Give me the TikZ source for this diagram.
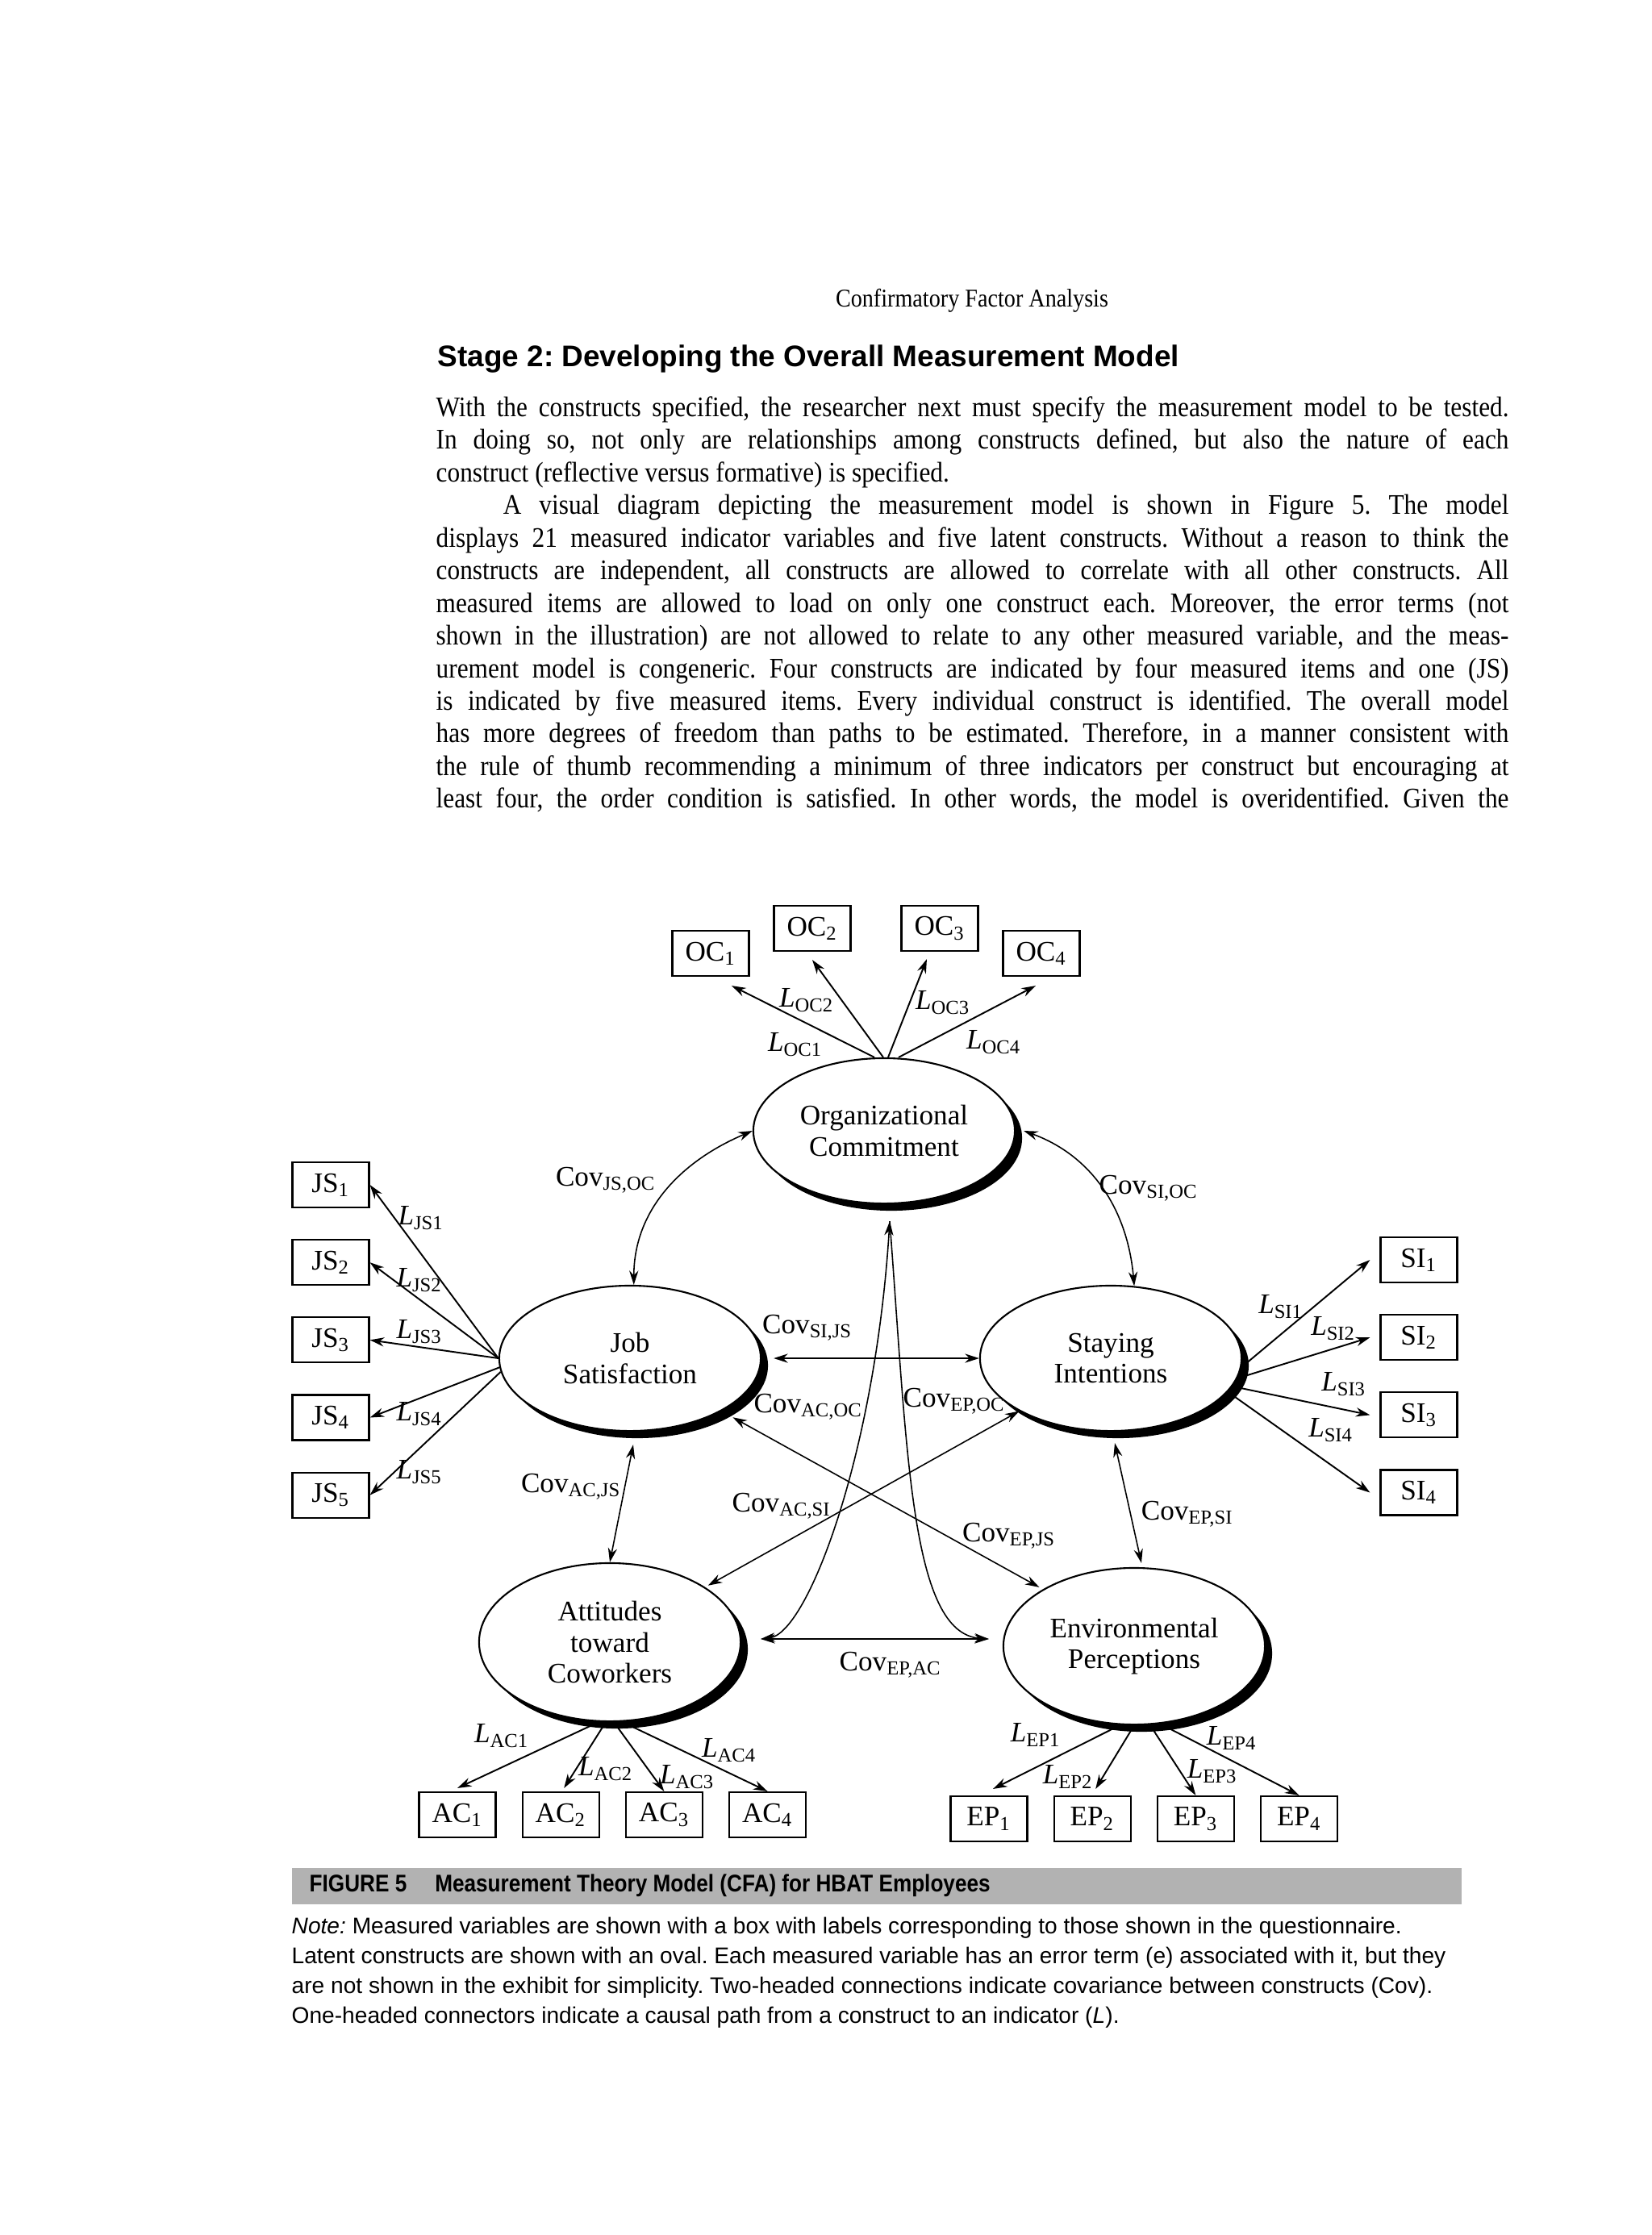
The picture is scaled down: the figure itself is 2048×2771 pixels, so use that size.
\documentclass[tikz,border=0pt]{standalone}
\usepackage{fontspec}
\setmainfont{Liberation Serif}
\newfontfamily\bodyfont[FakeStretch=0.89]{Liberation Serif}
\newfontfamily\headfont{Liberation Sans}
\newfontfamily\notefont{Liberation Sans}
\newfontfamily\titlefont[FakeStretch=0.875]{Liberation Sans}
\usetikzlibrary{positioning,arrows.meta,shapes.geometric,shadows}
\newcommand{\Ld}[1]{\textit{L}\textsubscript{#1}}
\newcommand{\Cv}[1]{Cov\textsubscript{#1}}
\frenchspacing

\begin{document}
\begin{tikzpicture}[x=0.01cm,y=0.01cm,>={Stealth[length=5pt,width=3.2pt]},
  construct/.style={draw,ellipse,fill=white,line width=0.6pt,minimum width=3.24cm,minimum height=1.8cm,inner sep=0pt,align=center,font=\fontsize{10}{11}\selectfont,drop shadow={shadow xshift=0.09cm,shadow yshift=-0.09cm,fill=black,opacity=1}},
  indicator/.style={draw,line width=0.6pt,minimum width=0.95cm,minimum height=0.56cm,inner sep=0pt,font=\fontsize{10}{11}\selectfont},
  load/.style={->,line width=0.55pt},
  cov/.style={<->,line width=0.45pt},
  lab/.style={inner sep=0pt,font=\fontsize{10}{11}\selectfont}]
\fill[white] (0,0) rectangle (2048,-2771);
\useasboundingbox (0,0) rectangle (2048,-2771);

\node[font=\bodyfont\fontsize{9}{11}\selectfont] (runhead) at (1205,-373) {Confirmatory Factor Analysis};
\node[anchor=base west,inner sep=0pt,font=\headfont\bfseries\fontsize{10.5}{12}\selectfont] (stage) at (542,-454) {Stage 2: Developing the Overall Measurement Model};
\node[anchor=north west,inner sep=0pt,text width=13.29cm,align=justify,font=\bodyfont\fontsize{10}{11.5}\selectfont] (body) at (540,-491) {With the constructs specified, the researcher next must specify the measurement model to be tested.\linebreak In doing so, not only are relationships among constructs defined, but also the nature of each\linebreak construct (reflective versus formative) is specified.\par
\hspace*{0.83cm}A visual diagram depicting the measurement model is shown in Figure 5. The model\linebreak displays 21 measured indicator variables and five latent constructs. Without a reason to think the\linebreak constructs are independent, all constructs are allowed to correlate with all other constructs. All\linebreak measured items are allowed to load on only one construct each. Moreover, the error terms (not\linebreak shown in the illustration) are not allowed to relate to any other measured variable, and the meas-\linebreak urement model is congeneric. Four constructs are indicated by four measured items and one (JS)\linebreak is indicated by five measured items. Every individual construct is identified. The overall model\linebreak has more degrees of freedom than paths to be estimated. Therefore, in a manner consistent with\linebreak the rule of thumb recommending a minimum of three indicators per construct but encouraging at\linebreak least four, the order condition is satisfied. In other words, the model is overidentified. Given the\parfillskip=0pt\par};

\node[construct] (OC) at (1096,-1402) {Organizational\\Commitment};
\node[construct] (JS) at (781,-1684) {Job\\Satisfaction};
\node[construct] (SI) at (1377,-1684) {Staying\\Intentions};
\node[construct,minimum height=1.96cm] (AC) at (756,-2036) {Attitudes\\toward\\Coworkers};
\node[construct,minimum height=1.94cm] (EP) at (1406,-2041) {Environmental\\Perceptions};

\node[indicator] (OC1) at (881,-1182) {OC\textsubscript{1}};
\node[indicator] (OC2) at (1007,-1151) {OC\textsubscript{2}};
\node[indicator] (OC3) at (1165,-1151) {OC\textsubscript{3}};
\node[indicator] (OC4) at (1291,-1182) {OC\textsubscript{4}};
\node[indicator] (JS1) at (410,-1469) {JS\textsubscript{1}};
\node[indicator,below=0.38cm of JS1] (JS2) {JS\textsubscript{2}};
\node[indicator,below=0.38cm of JS2] (JS3) {JS\textsubscript{3}};
\node[indicator,below=0.38cm of JS3] (JS4) {JS\textsubscript{4}};
\node[indicator,below=0.38cm of JS4] (JS5) {JS\textsubscript{5}};
\node[indicator] (SI1) at (1759,-1562) {SI\textsubscript{1}};
\node[indicator,below=0.38cm of SI1] (SI2) {SI\textsubscript{2}};
\node[indicator,below=0.38cm of SI2] (SI3) {SI\textsubscript{3}};
\node[indicator,below=0.38cm of SI3] (SI4) {SI\textsubscript{4}};
\node[indicator] (AC1) at (567,-2250) {AC\textsubscript{1}};
\node[indicator,right=0.31cm of AC1] (AC2) {AC\textsubscript{2}};
\node[indicator,right=0.31cm of AC2] (AC3) {AC\textsubscript{3}};
\node[indicator,right=0.31cm of AC3] (AC4) {AC\textsubscript{4}};
\node[indicator] (EP1) at (1226,-2255) {EP\textsubscript{1}};
\node[indicator,right=0.31cm of EP1] (EP2) {EP\textsubscript{2}};
\node[indicator,right=0.31cm of EP2] (EP3) {EP\textsubscript{3}};
\node[indicator,right=0.31cm of EP3] (EP4) {EP\textsubscript{4}};

\path[load]
  ([xshift=-0.12cm]OC.north) edge ([xshift=0.26cm,yshift=-0.11cm]OC1.south)
  ([xshift=-0.01cm]OC.north) edge ([yshift=-0.1cm]OC2.south)
  ([xshift=0.05cm]OC.north) edge ([xshift=-0.16cm,yshift=-0.09cm]OC3.south)
  ([xshift=0.18cm]OC.north) edge ([xshift=-0.07cm,yshift=-0.11cm]OC4.south)
  (JS.west) edge (JS1.east)
  (JS.west) edge (JS2.east)
  (JS.west) edge (JS3.east)
  (JS.184) edge (JS4.east)
  (JS.186) edge (JS5.east)
  (SI.-4) edge ([xshift=-0.12cm]SI1.west)
  (SI.-9) edge ([xshift=-0.12cm]SI2.west)
  (SI.-13) edge ([xshift=-0.12cm]SI3.west)
  (SI.-16) edge ([xshift=-0.12cm]SI4.west)
  ([xshift=-0.14cm]AC.south) edge ([yshift=0.04cm]AC1.north)
  ([xshift=-0.05cm]AC.south) edge ([xshift=0.04cm,yshift=0.04cm]AC2.north)
  ([xshift=0.05cm]AC.south) edge (AC3.north)
  ([xshift=0.16cm]AC.south) edge (AC4.north)
  ([xshift=-0.18cm]EP.south) edge ([xshift=0.05cm,yshift=0.08cm]EP1.north)
  (EP.south) edge ([xshift=0.04cm,yshift=0.08cm]EP2.north)
  ([xshift=0.2cm]EP.south) edge (EP3.north)
  ([xshift=0.36cm]EP.south) edge (EP4.north);

\node[lab] (lOC1) at (986,-1295) {\Ld{OC1}};
\node[lab] (lOC2) at (1000,-1240) {\Ld{OC2}};
\node[lab] (lOC3) at (1169,-1243) {\Ld{OC3}};
\node[lab] (lOC4) at (1232,-1292) {\Ld{OC4}};
\node[lab] (lJS1) at (522,-1510) {\Ld{JS1}};
\node[lab] (lJS2) at (520,-1587) {\Ld{JS2}};
\node[lab] (lJS3) at (520,-1651) {\Ld{JS3}};
\node[lab] (lJS4) at (520,-1753) {\Ld{JS4}};
\node[lab] (lJS5) at (520,-1825) {\Ld{JS5}};
\node[lab] (lSI1) at (1588,-1620) {\Ld{SI1}};
\node[lab] (lSI2) at (1653,-1647) {\Ld{SI2}};
\node[lab] (lSI3) at (1666,-1716) {\Ld{SI3}};
\node[lab] (lSI4) at (1650,-1773) {\Ld{SI4}};
\node[lab] (lAC1) at (622,-2152) {\Ld{AC1}};
\node[lab] (lAC2) at (751,-2193) {\Ld{AC2}};
\node[lab] (lAC3) at (852,-2203) {\Ld{AC3}};
\node[lab] (lAC4) at (904,-2170) {\Ld{AC4}};
\node[lab] (lEP1) at (1284,-2151) {\Ld{EP1}};
\node[lab] (lEP2) at (1324,-2203) {\Ld{EP2}};
\node[lab] (lEP3) at (1503,-2196) {\Ld{EP3}};
\node[lab] (lEP4) at (1527,-2155) {\Ld{EP4}};

\coordinate (ocB) at ([xshift=0.07cm,yshift=-0.21cm]OC.south);
\coordinate (acR) at ([xshift=0.24cm,yshift=0.04cm]AC.east);
\path ([xshift=-0.17cm]EP.west) coordinate (epW);
\coordinate (epL) at (epW |- acR);
\path[cov]
  (OC.west) edge[out=203,in=90] (JS.87)
  ([xshift=0.1cm]OC.east) edge[out=-20,in=95] (SI.72)
  ([xshift=0.15cm]JS.east) edge (SI.west)
  (JS.-30) edge[shorten <=0.16cm,shorten >=0.05cm] (EP.148)
  (SI.210) edge[shorten >=0.04cm] (AC.30)
  (AC.north) edge ([xshift=0.04cm,yshift=-0.16cm]JS.south)
  ([xshift=0.05cm,yshift=-0.14cm]SI.south) edge ([xshift=0.09cm,yshift=0.05cm]EP.north)
  (acR) edge (epL);
\draw[cov] (ocB) .. controls +(-18,-289) and +(58,7) .. (acR);
\draw[cov,->] (ocB) .. controls +(22,-289) and +(-97,7) .. (epL);

\node[lab] (cJSOC) at (751,-1463) {\Cv{JS,OC}};
\node[lab] (cSIOC) at (1424,-1473) {\Cv{SI,OC}};
\node[lab] (cSIJS) at (1001,-1646) {\Cv{SI,JS}};
\node[lab] (cACOC) at (1002,-1744) {\Cv{AC,OC}};
\node[lab] (cEPOC) at (1183,-1737) {\Cv{EP,OC}};
\node[lab] (cACJS) at (708,-1843) {\Cv{AC,JS}};
\node[lab] (cACSI) at (969,-1867) {\Cv{AC,SI}};
\node[lab] (cEPJS) at (1251,-1904) {\Cv{EP,JS}};
\node[lab] (cEPSI) at (1472,-1877) {\Cv{EP,SI}};
\node[lab] (cEPAC) at (1104,-2064) {\Cv{EP,AC}};

\node[anchor=north west,fill=black!30,minimum width=14.49cm,minimum height=0.45cm,inner sep=0pt] (band) at (361,-2315) {};
\node[anchor=west,inner sep=0pt,font=\titlefont\bfseries\fontsize{8.5}{10}\selectfont] (figtitle) at (383,-2338) {FIGURE 5\hspace{0.35cm}Measurement Theory Model (CFA) for HBAT Employees};
\node[anchor=north west,inner sep=0pt,align=left,font=\notefont\fontsize{8}{10.6}\selectfont] (note) at (361,-2376) {\textit{Note:} Measured variables are shown with a box with labels corresponding to those shown in the questionnaire.\\Latent constructs are shown with an oval. Each measured variable has an error term (e) associated with it, but they\\are not shown in the exhibit for simplicity. Two-headed connections indicate covariance between constructs (Cov).\\One-headed connectors indicate a causal path from a construct to an indicator (\textit{L}).};
\end{tikzpicture}
\end{document}
